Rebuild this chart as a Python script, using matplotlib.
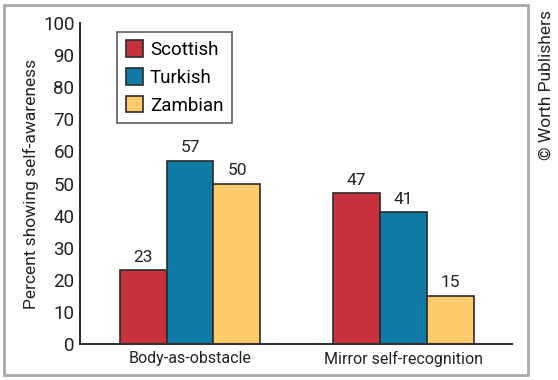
import matplotlib.pyplot as plt
import numpy as np
from matplotlib.patches import Rectangle

plt.rcParams['font.family'] = ['Roboto', 'DejaVu Sans']

tasks = ['Body-as-obstacle', 'Mirror self-recognition']
groups = ['Scottish', 'Turkish', 'Zambian']
scottish = [23, 47]
turkish = [57, 41]
zambian = [50, 15]
colors = ['#C8323D', '#0F7BA6', '#FDCB69']
yticks = [0, 10, 20, 30, 40, 50, 60, 70, 80, 90, 100]

fig = plt.figure(figsize=(5.58, 3.80), dpi=100)
ax = fig.add_axes([0.1434, 0.0947, 0.7742, 0.8447])

x = np.arange(len(tasks))
w = 0.22
series = [scottish, turkish, zambian]
for i, (vals, name, col) in enumerate(zip(series, groups, colors)):
    bars = ax.bar(x + (i - 1) * w, vals, w, color=col, edgecolor='#2b2b2b',
                  linewidth=1.2, label=name)
    for b, v in zip(bars, vals):
        ax.annotate(str(v), (b.get_x() + b.get_width() / 2, v),
                    xytext=(0, 4), textcoords='offset points',
                    ha='center', va='bottom', fontsize=12.5, color='#222')

ax.set_xlim(-0.516, 1.51)
ax.set_ylim(0, 100)
ax.set_yticks(yticks)
ax.set_xticks(x)
ax.set_xticklabels(tasks, fontsize=11.5, color='#222')
ax.tick_params(axis='both', length=0, colors='#222')
ax.tick_params(axis='y', pad=4, labelsize=13.5)
ax.tick_params(axis='x', pad=5)
ax.set_ylabel('Percent showing self-awareness', fontsize=12.5, color='#222', labelpad=3)
for s in ['top', 'right']:
    ax.spines[s].set_visible(False)
for s in ['left', 'bottom']:
    ax.spines[s].set_color('#333')
    ax.spines[s].set_linewidth(1.5)

leg = ax.legend(loc='upper left', bbox_to_anchor=(0.086, 0.972), fontsize=13.5,
                frameon=True, fancybox=False, handlelength=0.95, handleheight=0.95,
                handletextpad=0.35, labelspacing=0.5, borderpad=0.45,
                borderaxespad=0)
leg.get_frame().set_edgecolor('#333')
leg.get_frame().set_linewidth(1.2)

fig.patches.append(Rectangle((4 / 558, 5 / 380), 524 / 558, 370 / 380,
                             transform=fig.transFigure, fill=False,
                             edgecolor='#a8a8a8', linewidth=2))
fig.text(546 / 558, 1 - 85 / 380, '\u00a9 Worth Publishers', rotation=90,
         ha='center', va='center', fontsize=12.5, color='#222')

fig.savefig('out.png', dpi=100)
